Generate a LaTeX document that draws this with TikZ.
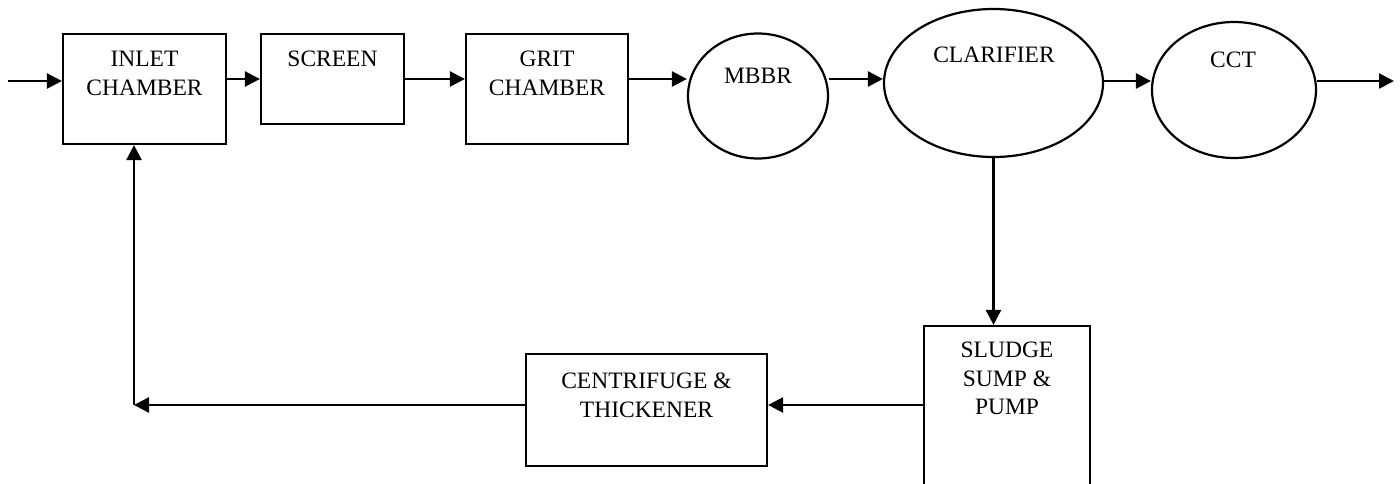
\documentclass[tikz,border=0pt]{standalone}
\usepackage{fontspec}
\setmainfont{Liberation Serif}
\usetikzlibrary{arrows.meta,shapes.geometric}
\tikzset{
  unit/.style={draw,line width=2.2pt,inner sep=0pt},
  tank/.style={ellipse,draw,line width=2.2pt,inner sep=0pt},
  lbl/.style={font=\fontsize{23.5}{28.5}\selectfont,align=center,anchor=base,inner sep=0pt},
  flow/.style={line width=2.6pt,-{Triangle[length=15pt,width=15pt]}}
}
\begin{document}
\begin{tikzpicture}[x=1pt,y=-1pt]
\useasboundingbox (0,0) rectangle (1400,484);
\clip (0,0) rectangle (1400,484);
\node[unit,minimum width=163pt,minimum height=110pt] (inlet) at (144.5,89) {};
\node[unit,minimum width=143pt,minimum height=90pt] (screen) at (332.5,79) {};
\node[unit,minimum width=162pt,minimum height=110pt] (grit) at (547,89) {};
\node[tank,minimum width=140pt,minimum height=125pt] (mbbr) at (758,96) {};
\node[tank,minimum width=219pt,minimum height=148pt] (clarifier) at (993.5,83) {};
\node[tank,minimum width=164pt,minimum height=136pt] (cct) at (1234,90) {};
\node[unit,minimum width=166pt,minimum height=180pt] (sludge) at (1007,416) {};
\node[unit,minimum width=241pt,minimum height=112pt] (centrifuge) at (646.5,410) {};
\node[lbl] (inlettxt) at (144.5,95.5) {INLET\\CHAMBER};
\node[lbl] (screentxt) at (332.5,66.5) {SCREEN};
\node[lbl] (grittxt) at (547,95.5) {GRIT\\CHAMBER};
\node[lbl] (mbbrtxt) at (758,83.5) {MBBR};
\node[lbl] (clarifiertxt) at (994,62.5) {CLARIFIER};
\node[lbl] (ccttxt) at (1233,67.5) {CCT};
\node[lbl] (sludgetxt) at (1007,414.5) {SLUDGE\\SUMP \&\\PUMP};
\node[lbl] (centrifugetxt) at (646.5,417) {CENTRIFUGE \&\\THICKENER};
\coordinate (in) at (8,81);
\coordinate (out) at (1394,81);
\coordinate (ret) at (134,405);
\draw[flow] (in) -- (inlet.west |- in);
\draw[flow] (inlet.east |- screen) -- (screen.west);
\draw[flow] (screen.east) -- (grit.west |- screen);
\draw[flow] (grit.east |- screen) -- (mbbr.west |- screen);
\draw[flow] (mbbr.east |- screen) -- (clarifier.west |- screen);
\draw[flow] (clarifier.east |- out) -- (cct.west |- out);
\draw[flow] (cct.east |- out) -- (out);
\draw[flow] (clarifier.south) -- (clarifier.south |- sludge.north);
\draw[flow] (sludge.west |- ret) -- (centrifuge.east |- ret);
\draw[flow] (centrifuge.west |- ret) -- (ret);
\draw[flow] (ret) -- (ret |- inlet.south);
\end{tikzpicture}
\end{document}
